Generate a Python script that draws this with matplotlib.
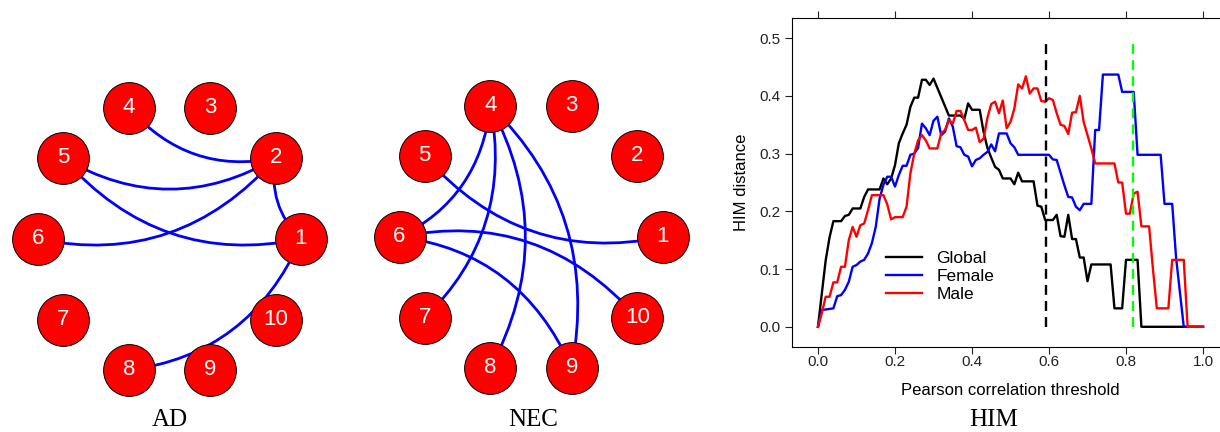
import numpy as np
import matplotlib
matplotlib.use("Agg")
import matplotlib.pyplot as plt
from matplotlib.path import Path
from matplotlib.patches import PathPatch
from matplotlib.lines import Line2D

plt.rcParams["font.family"] = ["Liberation Sans", "DejaVu Sans"]

W, H = 1220, 432  # output size in pixels (dpi 100)

# ── network data ─────────────────────────────────────────
node_ids = [1, 2, 3, 4, 5, 6, 7, 8, 9, 10]
ad_edges = [(1, 2), (1, 5), (1, 8), (2, 4), (2, 5), (2, 6)]
nec_edges = [(1, 5), (4, 6), (4, 7), (4, 8), (4, 9), (6, 9), (6, 10)]

# ── HIM distance vs threshold (step 0.01) ───────────────
threshold = np.round(np.arange(0, 1.0001, 0.01), 2)
him_global = [
    0, 0.058, 0.115, 0.155, 0.183, 0.183, 0.183, 0.192, 0.194, 0.205,
    0.205, 0.205, 0.225, 0.238, 0.238, 0.238, 0.238, 0.257, 0.247, 0.257,
    0.280, 0.318, 0.335, 0.350, 0.381, 0.397, 0.397, 0.428, 0.428, 0.419,
    0.430, 0.414, 0.398, 0.382, 0.366, 0.366, 0.366, 0.366, 0.360, 0.387,
    0.376, 0.376, 0.376, 0.338, 0.310, 0.293, 0.277, 0.272, 0.257, 0.257,
    0.257, 0.247, 0.267, 0.252, 0.252, 0.252, 0.252, 0.210, 0.208, 0.185,
    0.185, 0.185, 0.194, 0.157, 0.156, 0.194, 0.152, 0.152, 0.120, 0.120,
    0.079, 0.108, 0.108, 0.108, 0.108, 0.108, 0.108, 0.032, 0.032, 0.032,
    0.116, 0.116, 0.116, 0.116, 0, 0, 0, 0, 0, 0,
    0, 0, 0, 0, 0, 0, 0, 0, 0, 0,
    0,
]
him_female = [
    0, 0.029, 0.030, 0.031, 0.032, 0.053, 0.055, 0.064, 0.078, 0.104,
    0.107, 0.113, 0.116, 0.127, 0.145, 0.173, 0.222, 0.246, 0.260, 0.260,
    0.243, 0.263, 0.279, 0.279, 0.298, 0.300, 0.310, 0.352, 0.344, 0.332,
    0.357, 0.364, 0.332, 0.338, 0.361, 0.347, 0.313, 0.311, 0.298, 0.295,
    0.278, 0.289, 0.292, 0.298, 0.303, 0.316, 0.304, 0.335, 0.335, 0.335,
    0.318, 0.311, 0.298, 0.298, 0.298, 0.298, 0.298, 0.298, 0.298, 0.298,
    0.298, 0.290, 0.289, 0.267, 0.245, 0.225, 0.224, 0.208, 0.202, 0.213,
    0.213, 0.213, 0.341, 0.341, 0.437, 0.437, 0.437, 0.437, 0.437, 0.407,
    0.407, 0.407, 0.407, 0.298, 0.298, 0.298, 0.298, 0.298, 0.298, 0.298,
    0.213, 0.213, 0.213, 0.120, 0.060, 0, 0, 0, 0, 0,
    0,
]
him_male = [
    0, 0.024, 0.052, 0.052, 0.077, 0.077, 0.104, 0.104, 0.150, 0.173,
    0.156, 0.176, 0.179, 0.202, 0.228, 0.228, 0.228, 0.228, 0.212, 0.186,
    0.190, 0.190, 0.190, 0.208, 0.266, 0.300, 0.323, 0.332, 0.323, 0.309,
    0.309, 0.309, 0.335, 0.341, 0.358, 0.352, 0.374, 0.374, 0.358, 0.341,
    0.341, 0.345, 0.320, 0.326, 0.362, 0.386, 0.390, 0.370, 0.392, 0.344,
    0.355, 0.378, 0.420, 0.413, 0.434, 0.404, 0.413, 0.413, 0.391, 0.390,
    0.396, 0.393, 0.370, 0.350, 0.348, 0.334, 0.371, 0.372, 0.400, 0.355,
    0.332, 0.309, 0.283, 0.283, 0.283, 0.283, 0.283, 0.283, 0.250, 0.250,
    0.196, 0.196, 0.231, 0.234, 0.174, 0.174, 0.174, 0.100, 0.032, 0.032,
    0.032, 0.032, 0.116, 0.116, 0.116, 0.116, 0, 0, 0, 0,
    0,
]
series_names = ["Global", "Female", "Male"]
series_colors = ["black", "#0000FF", "#FF0000"]
cut_global = 0.593   # black dashed line
cut_best = 0.817     # green dashed line

C_NODE = "#FF0000"
C_EDGE = "#0000FF"


def px_axes(left, top, width, height):
    """axes from a pixel box (origin top-left)"""
    return [left / W, 1 - (top + height) / H, width / W, height / H]


def draw_network(ax, edges):
    ang = np.deg2rad(36 * (np.array(node_ids) - 1))
    pos = {n: np.array([np.cos(a), np.sin(a)]) for n, a in zip(node_ids, ang)}

    # curved edges (bend to the left of from->to, like igraph)
    for a, b in edges:
        p0, p2 = pos[a], pos[b]
        d = p2 - p0
        ctrl = (p0 + p2) / 2 + 0.28 * np.array([-d[1], d[0]])
        path = Path([p0, ctrl, p2], [Path.MOVETO, Path.CURVE3, Path.CURVE3])
        ax.add_patch(PathPatch(path, fc="none", ec=C_EDGE, lw=2.0, zorder=1))

    xs = [pos[n][0] for n in node_ids]
    ys = [pos[n][1] for n in node_ids]
    ax.scatter(xs, ys, s=1390, c=C_NODE, edgecolors="black", linewidths=0.7,
               zorder=2)
    for n in node_ids:
        ax.text(pos[n][0], pos[n][1], str(n), color="white", fontsize=16,
                ha="center", va="center", zorder=3)

    ax.set_xlim(-1.2, 1.2)
    ax.set_ylim(-1.2, 1.2)
    ax.axis("off")


fig = plt.figure(figsize=(W / 100, H / 100), dpi=100)

# ── AD / NEC networks ──
ax_ad = fig.add_axes(px_axes(11.7, 73.6, 315.6, 330.7))
draw_network(ax_ad, ad_edges)
ax_nec = fig.add_axes(px_axes(373.2, 71.6, 315.6, 330.7))
draw_network(ax_nec, nec_edges)

# ── HIM curves ──
ax = fig.add_axes(px_axes(792, 18, 437, 329))
for vals, name, col in zip([him_global, him_female, him_male],
                           series_names, series_colors):
    ax.plot(threshold, vals, color=col, lw=1.7, label=name, zorder=2)

ax.vlines(cut_global, 0, 0.5, colors="black", lw=1.7,
          linestyles=(0, (4.2, 2.6)), zorder=3)
ax.vlines(cut_best, 0, 0.5, colors="#00FF00", lw=1.7,
          linestyles=(0, (4.2, 2.6)), zorder=3)

ax.set_xlim(-0.0675, 1.0675)
ax.set_ylim(-0.035, 0.535)
ax.set_xticks(np.arange(0, 1.01, 0.2))
ax.set_yticks(np.arange(0, 0.51, 0.1))
ax.xaxis.set_major_formatter(plt.FuncFormatter(lambda v, p: f"{v:.1f}"))
ax.yaxis.set_major_formatter(plt.FuncFormatter(lambda v, p: f"{v:.1f}"))
ax.tick_params(axis="both", direction="out", length=5, width=0.8,
               labelsize=11, colors="#222222")
ax.tick_params(axis="x", top=True, labeltop=False, pad=1)
ax.tick_params(axis="y", pad=3)
for sp in ax.spines.values():
    sp.set_linewidth(0.8)

ax.set_xlabel("Pearson correlation threshold", fontsize=12, labelpad=10)
ax.set_ylabel("HIM distance", fontsize=12, labelpad=8)

handles = [Line2D([], [], color=c, lw=1.7) for c in series_colors]
ax.legend(handles, series_names, loc="upper left",
          bbox_to_anchor=(886 / W, 1 - 251 / H), bbox_transform=fig.transFigure,
          frameon=False, borderpad=0, borderaxespad=0, fontsize=12.5,
          handlelength=2.1, handletextpad=0.8, labelspacing=0.16)

# ── panel titles ──
for x, t in [(170, "AD"), (533, "NEC"), (994, "HIM")]:
    fig.text(x / W, 1 - 426 / H, t, ha="center", va="baseline", fontsize=18,
             family="Liberation Serif")

fig.savefig("out.png", dpi=100)
